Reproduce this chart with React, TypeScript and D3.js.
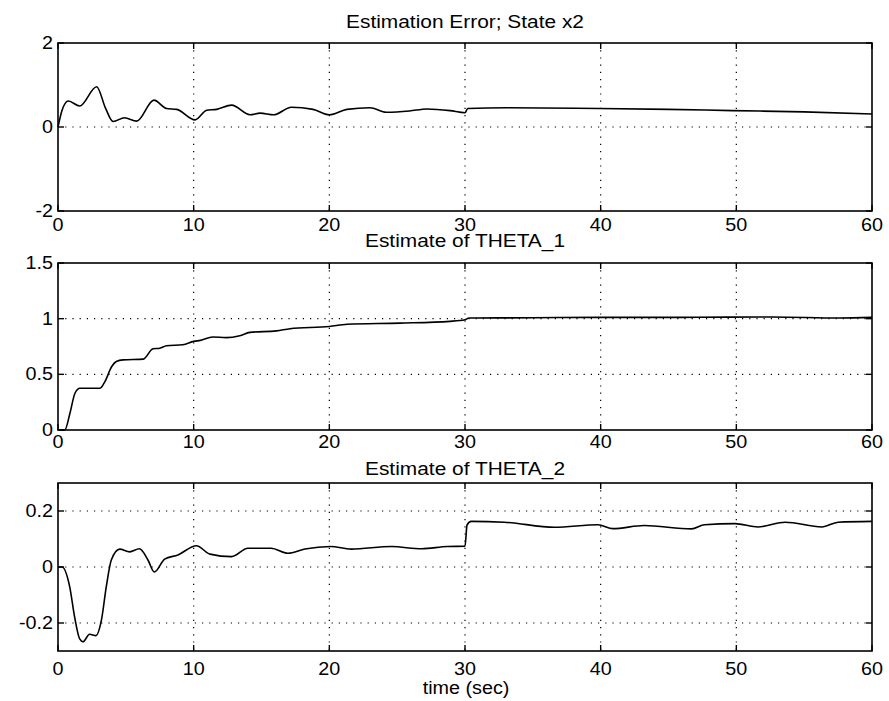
import React from "react";
import * as d3 from "d3";

const X_TICKS = [0, 10, 20, 30, 40, 50, 60];

// Panel 1: Estimation Error; State x2
const T1 = [0, 0.3, 0.76, 1.6, 2.85, 3.5, 4.06, 4.9, 5.8, 7.07, 8.0, 8.75, 10.1, 10.96, 11.7, 12.8, 14.15, 14.9, 15.9, 17.2, 18.8, 20.0, 21.3, 23.0, 24.2, 25.9, 27.2, 28.9, 30.0, 30.2, 33.1, 39.9, 45, 49.7, 55, 60];
const V1 = [0, 0.4, 0.62, 0.5, 0.96, 0.45, 0.13, 0.22, 0.14, 0.64, 0.44, 0.42, 0.17, 0.40, 0.42, 0.52, 0.29, 0.33, 0.29, 0.47, 0.42, 0.29, 0.42, 0.46, 0.35, 0.38, 0.43, 0.39, 0.34, 0.44, 0.46, 0.44, 0.42, 0.39, 0.36, 0.31];
const Y1_TICKS = [-2, 0, 2];
const Y1_LABELS = ["-2", "0", "2"];

// Panel 2: Estimate of THETA_1
const T2 = [0, 0.5, 0.88, 1.25, 1.62, 3.1, 3.46, 3.96, 4.3, 4.8, 6.29, 7.0, 7.5, 8.0, 9.2, 10.0, 10.5, 11.4, 12.4, 13.4, 14.15, 16.1, 17.1, 20.0, 21.3, 25.2, 28.9, 30.0, 30.3, 35, 39.9, 46, 52.7, 57.6, 60];
const V2 = [0, 0, 0.15, 0.33, 0.375, 0.375, 0.435, 0.57, 0.615, 0.63, 0.637, 0.73, 0.735, 0.757, 0.766, 0.796, 0.805, 0.835, 0.83, 0.847, 0.877, 0.89, 0.91, 0.93, 0.95, 0.96, 0.976, 0.99, 1.006, 1.008, 1.012, 1.012, 1.015, 1.006, 1.012];
const Y2_TICKS = [0, 0.5, 1, 1.5];
const Y2_LABELS = ["0", "0.5", "1", "1.5"];

// Panel 3: Estimate of THETA_2
const T3 = [0, 0.3, 0.86, 1.23, 1.6, 1.84, 2.33, 2.8, 3.2, 3.56, 3.93, 4.55, 5.28, 6.0, 6.63, 7.1, 7.86, 8.84, 10.2, 11.2, 12.8, 14.0, 15.7, 16.95, 18.2, 20.1, 21.6, 24.6, 26.8, 28.7, 30.0, 30.15, 30.46, 32.9, 36.6, 39.8, 40.9, 43.2, 46.7, 47.65, 49.9, 51.6, 53.6, 56.3, 57.5, 60];
const V3 = [0, 0, -0.07, -0.18, -0.257, -0.267, -0.24, -0.245, -0.19, -0.07, 0.025, 0.064, 0.054, 0.065, 0.025, -0.018, 0.028, 0.043, 0.076, 0.046, 0.037, 0.067, 0.067, 0.049, 0.064, 0.073, 0.064, 0.073, 0.065, 0.073, 0.074, 0.15, 0.163, 0.16, 0.142, 0.151, 0.137, 0.148, 0.136, 0.151, 0.155, 0.143, 0.16, 0.143, 0.16, 0.163];
const Y3_TICKS = [-0.2, 0, 0.2];
const Y3_LABELS = ["-0.2", "0", "0.2"];

const TITLES = ["Estimation Error; State x2", "Estimate of THETA_1", "Estimate of THETA_2"];
const X_LABEL = "time (sec)";

const FONT = "'Liberation Sans', Arial, Helvetica, sans-serif";
const SX = 1.13; // horizontal stretch of the scanned lettering

function Txt({ x, y, anchor, size, children }: any) {
  return (
    <text
      transform={`translate(${x},${y}) scale(${SX},1)`}
      textAnchor={anchor}
      fontSize={size}
      fontFamily={FONT}
      fill="#000"
    >
      {children}
    </text>
  );
}

function Panel({ t, v, yDomain, yTicks, yLabels, top, bottom, title, titleY, xLabelY }: any) {
  const left = 58;
  const right = 872;
  const x = d3.scaleLinear().domain([0, 60]).range([left, right]);
  const y = d3.scaleLinear().domain(yDomain).range([bottom, top]);
  const pts = t.map((tt: number, i: number) => [tt, v[i]] as [number, number]);
  const line = d3
    .line<[number, number]>()
    .x((d) => x(d[0]))
    .y((d) => y(d[1]))
    .curve(d3.curveMonotoneX);
  const tickLen = 6;
  const innerX = X_TICKS.filter((d) => d !== 0 && d !== 60);
  const innerY = yTicks.filter((d: number) => d !== yDomain[0] && d !== yDomain[1]);
  return (
    <g>
      {innerX.map((d) => (
        <line key={"gx" + d} x1={x(d)} x2={x(d)} y1={top} y2={bottom} stroke="#000" strokeWidth={1.2} strokeDasharray="1.2,6" />
      ))}
      {innerY.map((d: number) => (
        <line key={"gy" + d} x1={left} x2={right} y1={y(d)} y2={y(d)} stroke="#000" strokeWidth={1.2} strokeDasharray="1.2,6" />
      ))}
      {X_TICKS.map((d) => (
        <g key={"tx" + d}>
          <line x1={x(d)} x2={x(d)} y1={bottom} y2={bottom - tickLen} stroke="#000" strokeWidth={1.4} />
          <line x1={x(d)} x2={x(d)} y1={top} y2={top + tickLen} stroke="#000" strokeWidth={1.4} />
        </g>
      ))}
      {yTicks.map((d: number) => (
        <g key={"ty" + d}>
          <line x1={left} x2={left + tickLen} y1={y(d)} y2={y(d)} stroke="#000" strokeWidth={1.4} />
          <line x1={right} x2={right - tickLen} y1={y(d)} y2={y(d)} stroke="#000" strokeWidth={1.4} />
        </g>
      ))}
      <path d={line(pts) || ""} fill="none" stroke="#000" strokeWidth={1.6} strokeLinejoin="round" />
      <rect x={left} y={top} width={right - left} height={bottom - top} fill="none" stroke="#000" strokeWidth={1.6} />
      {yTicks.map((d: number, i: number) => (
        <Txt key={"ly" + d} x={left - 5} y={y(d) + 6} anchor="end" size={17.5}>
          {yLabels[i]}
        </Txt>
      ))}
      {X_TICKS.map((d) => (
        <Txt key={"lx" + d} x={x(d)} y={xLabelY} anchor="middle" size={17.5}>
          {String(d)}
        </Txt>
      ))}
      <Txt x={(left + right) / 2} y={titleY} anchor="middle" size={18.5}>
        {title}
      </Txt>
    </g>
  );
}

export default function App() {
  return (
    <div style={{ position: "absolute", left: 0, top: 0 }}>
      <svg width={889} height={701} style={{ display: "block", background: "#fff" }}>
        <rect x={0} y={0} width={889} height={701} fill="#fff" />
        <Panel t={T1} v={V1} yDomain={[-2, 2]} yTicks={Y1_TICKS} yLabels={Y1_LABELS} top={43} bottom={211} title={TITLES[0]} titleY={28} xLabelY={231} />
        <Panel t={T2} v={V2} yDomain={[0, 1.5]} yTicks={Y2_TICKS} yLabels={Y2_LABELS} top={263} bottom={430} title={TITLES[1]} titleY={247} xLabelY={448} />
        <Panel t={T3} v={V3} yDomain={[-0.3, 0.3]} yTicks={Y3_TICKS} yLabels={Y3_LABELS} top={483} bottom={651} title={TITLES[2]} titleY={475} xLabelY={675} />
        <Txt x={466} y={694} anchor="middle" size={17.5}>
          {X_LABEL}
        </Txt>
      </svg>
    </div>
  );
}
